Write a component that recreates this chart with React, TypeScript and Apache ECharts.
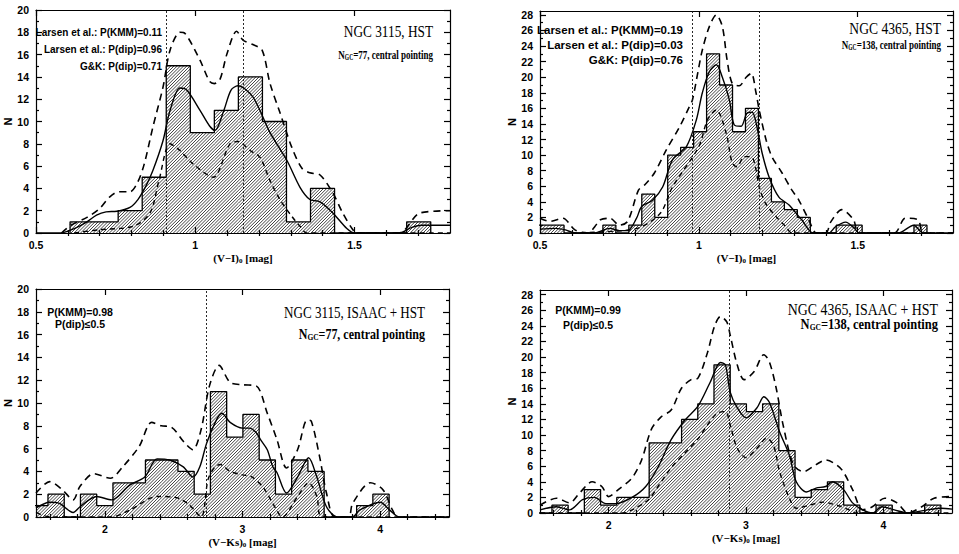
import React, { useEffect, useRef } from "react";
import * as echarts from "echarts";

type Pt = [number, number];

// ---------------- Panel A : NGC 3115, HST, (V-I)0 ----------------
const aBinStart = 0.607;
const aBinWidth = 0.0755;
const aCounts = [1, 1, 2, 5, 15, 9, 11, 14, 10, 1, 4, 0, 0, 0, 1];
const aKde: Pt[] = [[0.5, 0], [0.575, 0], [0.62, 0.4], [0.66, 1.0], [0.69, 1.6], [0.72, 1.9], [0.754, 1.95], [0.795, 2.3], [0.82, 3.0], [0.845, 4.2], [0.867, 5.6], [0.899, 8.3], [0.921, 11], [0.952, 13], [0.974, 12.8], [1.015, 11], [1.045, 9.6], [1.062, 9.2], [1.09, 11], [1.112, 12.8], [1.134, 13.2], [1.181, 12.2], [1.235, 9], [1.288, 6.5], [1.329, 4.1], [1.36, 3.0], [1.392, 2.8], [1.432, 1.8], [1.476, 0.4], [1.5, 0], [1.64, 0], [1.68, 0.5], [1.71, 0.7], [1.8, 0.7]];
const aUpper: Pt[] = [[0.58, 0], [0.61, 0.7], [0.66, 1.4], [0.7, 2.2], [0.73, 3.2], [0.76, 3.7], [0.795, 3.7], [0.82, 4.6], [0.84, 6.2], [0.867, 9.5], [0.899, 13.1], [0.921, 16.4], [0.952, 18], [0.968, 17.9], [1.015, 15.5], [1.045, 13.6], [1.06, 13.4], [1.078, 13.8], [1.1, 16.1], [1.13, 18.1], [1.15, 17.3], [1.181, 16.9], [1.21, 16.4], [1.235, 13.4], [1.266, 10.8], [1.303, 7.7], [1.335, 5.8], [1.36, 5.4], [1.392, 5.2], [1.432, 3.6], [1.463, 1.8], [1.495, 0.3], [1.51, 0], [1.64, 0], [1.706, 1.8], [1.8, 2.0]];
const aLower: Pt[] = [[0.62, 0], [0.7, 0.3], [0.805, 0.6], [0.858, 1.8], [0.886, 4.7], [0.921, 8.0], [0.952, 7.4], [0.993, 6.2], [1.056, 5.0], [1.109, 8.0], [1.134, 8.2], [1.172, 7.4], [1.203, 6.8], [1.235, 4.7], [1.266, 3.0], [1.303, 1.5], [1.329, 0.6], [1.35, 0], [1.8, 0]];
const aPeaks = [0.913, 1.15];
const aXTicks = [0.5, 1, 1.5];
const aYTicks = [0, 2, 4, 6, 8, 10, 12, 14, 16, 18, 20];
const aNotes = ["Larsen et al.: P(KMM)=0.11", "Larsen et al.: P(dip)=0.96", "G&K: P(dip)=0.71"];
const aTitle = "NGC 3115, HST";
const aSub = "N{sub|GC}=77, central pointing";

// ---------------- Panel B : NGC 4365, HST, (V-I)0 ----------------
const bBinStart = 0.494;
const bBinWidth = 0.0408;
const bCounts = [1, 1, 0, 0, 0, 1, 0, 1, 5, 2, 10, 11, 13, 23, 19, 13, 16, 7, 4, 3, 2, 0, 0, 1, 1, 0, 0, 0, 0, 1];
const bKde: Pt[] = [[0.5, 0.5], [0.55, 0.6], [0.58, 0.4], [0.61, 0], [0.67, 0], [0.72, 0.6], [0.75, 0.3], [0.776, 0.3], [0.804, 1.9], [0.82, 3.4], [0.854, 4.2], [0.886, 5.9], [0.917, 9.4], [0.961, 11.1], [0.992, 14.5], [1.011, 18], [1.033, 20.7], [1.055, 21.6], [1.074, 20], [1.096, 17.1], [1.111, 13.9], [1.133, 13.7], [1.152, 15.4], [1.168, 15.5], [1.183, 13.6], [1.199, 10.3], [1.221, 7.2], [1.252, 4.6], [1.284, 3.6], [1.315, 2.1], [1.324, 1.7], [1.346, 0.4], [1.36, 0], [1.409, 0], [1.43, 0.8], [1.462, 1.4], [1.49, 0.6], [1.503, 0], [1.628, 0], [1.676, 1.0], [1.707, 0], [1.8, 0]];
const bUpper: Pt[] = [[0.5, 1.9], [0.531, 1.5], [0.572, 1.9], [0.61, 0.4], [0.65, 0], [0.68, 1.2], [0.69, 1.7], [0.72, 1.9], [0.75, 1.0], [0.776, 1.5], [0.81, 5.5], [0.83, 6.2], [0.86, 7.7], [0.898, 10.7], [0.939, 13.6], [0.97, 16.2], [0.98, 17.1], [1.0, 21.3], [1.011, 23.5], [1.033, 26.5], [1.055, 28.0], [1.074, 26.5], [1.089, 22.2], [1.105, 19.2], [1.127, 18.9], [1.149, 20], [1.165, 20.5], [1.18, 18], [1.19, 15.8], [1.212, 11.9], [1.23, 9.8], [1.262, 7.7], [1.293, 5.5], [1.315, 4.2], [1.346, 1.7], [1.37, 0], [1.4, 0], [1.415, 1.4], [1.45, 3.0], [1.487, 1.7], [1.503, 0], [1.615, 0], [1.65, 1.9], [1.69, 1.7], [1.707, 0], [1.8, 0]];
const bLower: Pt[] = [[0.6, 0], [0.76, 0.3], [0.82, 0.8], [0.88, 2.6], [0.917, 5.9], [1.0, 11.1], [1.027, 14.5], [1.055, 15.8], [1.086, 12.8], [1.105, 9], [1.12, 8.5], [1.143, 9.8], [1.165, 9.8], [1.18, 8.1], [1.19, 5.9], [1.21, 3.8], [1.243, 2.1], [1.274, 0.8], [1.293, 0], [1.8, 0]];
const bPeaks = [0.98, 1.187];
const bXTicks = [0.5, 1, 1.5];
const bYTicks = [0, 2, 4, 6, 8, 10, 12, 14, 16, 18, 20, 22, 24, 26, 28];
const bNotes = ["Larsen et al.: P(KMM)=0.19", "Larsen et al.: P(dip)=0.03", "G&K: P(dip)=0.76"];
const bTitle = "NGC 4365, HST";
const bSub = "N{sub|GC}=138, central pointing";

// ---------------- Panel C : NGC 3115, ISAAC + HST, (V-Ks)0 ----------------
const cBinStart = 1.469;
const cBinWidth = 0.118;
const cCounts = [1, 2, 0, 2, 1, 3, 3, 5, 5, 4, 2, 11, 7, 9, 5, 2, 5, 4, 0, 0, 1, 2];
const cKde: Pt[] = [[1.5, 0.8], [1.6, 1.3], [1.67, 1.2], [1.77, 0.4], [1.82, 0.9], [1.94, 1.8], [2.05, 1.5], [2.18, 2.8], [2.29, 3.5], [2.38, 5.1], [2.47, 5.0], [2.57, 4.4], [2.64, 3.5], [2.69, 4.4], [2.74, 6.5], [2.81, 8.5], [2.85, 9.1], [2.91, 8.3], [3.0, 7.8], [3.05, 7.8], [3.1, 7.4], [3.13, 6.8], [3.18, 5.9], [3.22, 4.4], [3.25, 3.9], [3.32, 2.1], [3.4, 3.5], [3.48, 5.2], [3.54, 3.5], [3.61, 0.9], [3.69, 0], [3.8, 0], [3.85, 0.6], [4.0, 1.3], [4.07, 0.6], [4.14, 0], [4.5, 0]];
const cUpper: Pt[] = [[1.5, 2.1], [1.6, 3.1], [1.69, 2.4], [1.77, 1.5], [1.82, 2.7], [1.92, 3.8], [2.04, 3.4], [2.13, 4.4], [2.25, 6.2], [2.34, 8.3], [2.41, 8.0], [2.48, 7.9], [2.58, 6.5], [2.64, 5.9], [2.7, 7.7], [2.76, 11.5], [2.83, 13.3], [2.91, 11.8], [3.0, 11.6], [3.1, 11.5], [3.18, 9.1], [3.25, 6.8], [3.32, 4.3], [3.4, 5.9], [3.47, 8.5], [3.5, 8.4], [3.56, 5.3], [3.61, 2.1], [3.67, 0], [3.77, 0], [3.8, 1.2], [3.93, 3.0], [4.02, 2.4], [4.09, 0.6], [4.13, 0], [4.5, 0]];
const cLower: Pt[] = [[1.5, 0.4], [1.56, 0.1], [1.62, 0], [2.05, 0], [2.18, 0.6], [2.38, 1.8], [2.52, 1.7], [2.61, 1.1], [2.7, 0], [2.75, 3.3], [2.8, 4.4], [2.84, 4.6], [2.91, 4.0], [3.0, 3.7], [3.07, 3.5], [3.15, 2.6], [3.22, 1.2], [3.29, 0], [3.4, 1.8], [3.48, 3.0], [3.54, 1.8], [3.58, 0], [4.5, 0]];
const cPeaks = [2.742];
const cXTicks = [2, 3, 4];
const cYTicks = [0, 2, 4, 6, 8, 10, 12, 14, 16, 18, 20];
const cNotes = ["P(KMM)=0.98", "P(dip)≤0.5"];
const cTitle = "NGC 3115, ISAAC + HST";
const cSub = "N{sub|GC}=77, central pointing";

// ---------------- Panel D : NGC 4365, ISAAC + HST, (V-Ks)0 ----------------
const dBinStart = 1.469;
const dBinWidth = 0.118;
const dCounts = [0, 1, 0, 3, 1, 2, 2, 9, 9, 12, 14, 19, 14, 13, 14, 8, 2, 3, 4, 1, 0, 1, 0, 0, 1];
const dKde: Pt[] = [[1.5, 0.4], [1.62, 0.8], [1.715, 0.4], [1.81, 1.7], [1.895, 2.0], [1.98, 1.2], [2.05, 1.2], [2.17, 2.0], [2.27, 3.4], [2.36, 5.9], [2.455, 9.4], [2.555, 11.9], [2.65, 13.7], [2.74, 16.8], [2.814, 19.3], [2.85, 19.0], [2.885, 15.5], [2.936, 13.5], [3.0, 12.2], [3.08, 13.5], [3.13, 14.9], [3.17, 14.2], [3.245, 10.4], [3.316, 7.4], [3.366, 4.0], [3.44, 2.7], [3.51, 3.2], [3.58, 3.4], [3.63, 4.0], [3.71, 3.0], [3.776, 1.3], [3.85, 0.4], [3.92, 0], [3.99, 0.8], [4.08, 0.4], [4.18, 0], [4.32, 0.4], [4.42, 0.6], [4.5, 0.5]];
const dUpper: Pt[] = [[1.5, 1.0], [1.62, 1.9], [1.715, 1.3], [1.79, 2.6], [1.88, 4.0], [1.95, 3.4], [2.0, 2.1], [2.07, 3.0], [2.17, 4.5], [2.24, 6.8], [2.31, 10.7], [2.38, 12.3], [2.455, 13.2], [2.53, 16.0], [2.6, 17.1], [2.65, 17.3], [2.72, 20.6], [2.77, 23.9], [2.814, 25.2], [2.86, 24.5], [2.885, 22.8], [2.936, 19], [2.986, 17.1], [3.058, 18.1], [3.13, 20.3], [3.17, 19.4], [3.22, 16], [3.27, 11.3], [3.345, 6.2], [3.417, 5.3], [3.51, 6.2], [3.58, 6.8], [3.63, 6.5], [3.7, 5.5], [3.776, 3.0], [3.85, 0.4], [3.92, 0.8], [4.01, 1.9], [4.1, 1.3], [4.18, 0], [4.28, 0.8], [4.37, 1.9], [4.5, 2.1]];
const dLower: Pt[] = [[1.5, 0], [2.1, 0], [2.17, 0.4], [2.29, 1.7], [2.36, 3.4], [2.455, 5.8], [2.555, 7.7], [2.65, 9.5], [2.72, 11.3], [2.79, 12.8], [2.85, 13], [2.885, 11.3], [2.936, 8.3], [3.0, 7.1], [3.08, 8.3], [3.15, 9.6], [3.2, 8.7], [3.245, 5.3], [3.316, 1.9], [3.366, 0.6], [3.46, 1.0], [3.56, 1.4], [3.62, 1.2], [3.68, 0.9], [3.75, 0.4], [3.8, 0], [4.5, 0]];
const dPeaks = [2.885];
const dXTicks = [2, 3, 4];
const dYTicks = [0, 2, 4, 6, 8, 10, 12, 14, 16, 18, 20, 22, 24, 26, 28];
const dNotes = ["P(KMM)=0.99", "P(dip)≤0.5"];
const dTitle = "NGC 4365, ISAAC + HST";
const dSub = "N{sub|GC}=138, central pointing";

const viName = "(V−I){sub|0} [mag]";
const vkName = "(V−Ks){sub|0} [mag]";

// ---------------- layout ----------------
const SANS = '"Liberation Sans", Arial, sans-serif';
const SERIF = '"Liberation Serif", "Times New Roman", serif';
const STRETCH = 1.2; // text drawn taller then squeezed horizontally (narrow plot font)

function minorTicks(majors: number[], lo: number, hi: number, step: number): number[] {
  const out: number[] = [];
  const n = Math.round((hi - lo) / step);
  for (let i = 0; i <= n; i++) {
    const v = Math.round((lo + i * step) * 1000) / 1000;
    if (!majors.some((m) => Math.abs(m - v) < 1e-6)) out.push(v);
  }
  return out;
}

const panels = [
  {
    grid: { left: 36, top: 10, width: 414, height: 223 },
    xMin: 0.5, xMax: 1.8, yMax: 20,
    xTicks: aXTicks, xMinor: minorTicks(aXTicks, 0.6, 1.7, 0.1),
    yTicks: aYTicks, yMinor: minorTicks(aYTicks, 1, 19, 1),
    start: aBinStart, width: aBinWidth, counts: aCounts,
    kde: aKde, upper: aUpper, lower: aLower, peaks: aPeaks, xName: viName,
    notes: aNotes, notesAlign: "right", notesX: 162, notesY: [32, 49, 66], notesSize: 10,
    title: aTitle, titleX: 433, titleY: 32, titleSize: 13.3, sub: aSub, subY: 54, subSize: 9, subStretch: 1.45,
  },
  {
    grid: { left: 540, top: 11, width: 413, height: 222 },
    xMin: 0.5, xMax: 1.8, yMax: 28.5,
    xTicks: bXTicks, xMinor: minorTicks(bXTicks, 0.6, 1.7, 0.1),
    yTicks: bYTicks, yMinor: minorTicks(bYTicks, 1, 27, 1),
    start: bBinStart, width: bBinWidth, counts: bCounts,
    kde: bKde, upper: bUpper, lower: bLower, peaks: bPeaks, xName: viName,
    notes: bNotes, notesAlign: "right", notesX: 683, notesY: [30, 45, 60], notesSize: 11.5,
    title: bTitle, titleX: 941, titleY: 29, titleSize: 13.6, sub: bSub, subY: 44, subSize: 9, subStretch: 1.45,
  },
  {
    grid: { left: 36, top: 289, width: 413, height: 228 },
    xMin: 1.5, xMax: 4.5, yMax: 20,
    xTicks: cXTicks, xMinor: minorTicks(cXTicks, 1.6, 4.4, 0.2),
    yTicks: cYTicks, yMinor: minorTicks(cYTicks, 1, 19, 1),
    start: cBinStart, width: cBinWidth, counts: cCounts,
    kde: cKde, upper: cUpper, lower: cLower, peaks: cPeaks, xName: vkName,
    notes: cNotes, notesAlign: "center", notesX: 80, notesY: [312, 324], notesSize: 10.5,
    title: cTitle, titleX: 425, titleY: 313, titleSize: 13.1, sub: cSub, subY: 334, subSize: 12, subStretch: 1.2,
  },
  {
    grid: { left: 540, top: 290, width: 412, height: 223 },
    xMin: 1.5, xMax: 4.5, yMax: 28.6,
    xTicks: dXTicks, xMinor: minorTicks(dXTicks, 1.6, 4.4, 0.2),
    yTicks: dYTicks, yMinor: minorTicks(dYTicks, 1, 27, 1),
    start: dBinStart, width: dBinWidth, counts: dCounts,
    kde: dKde, upper: dUpper, lower: dLower, peaks: dPeaks, xName: vkName,
    notes: dNotes, notesAlign: "center", notesX: 588, notesY: [310, 325], notesSize: 10.5,
    title: dTitle, titleX: 938, titleY: 309, titleSize: 13.9, sub: dSub, subY: 324, subSize: 12.5, subStretch: 1.2,
  },
];

const black = "#000";
const frame = { color: black, width: 1.2 };

function stepOutline(start: number, width: number, counts: number[]): Pt[] {
  const pts: Pt[] = [[start, 0]];
  counts.forEach((c, i) => {
    pts.push([start + i * width, c]);
    pts.push([start + (i + 1) * width, c]);
  });
  pts.push([start + counts.length * width, 0]);
  return pts;
}

const HATCH = 3.2;
function renderHatch(params: any, api: any) {
  const x0 = api.value(0);
  const x1 = api.value(1);
  const c = api.value(2);
  if (!(c > 0)) return { type: "group", children: [] };
  const a = api.coord([x0, 0]);
  const b = api.coord([x1, c]);
  const cs = params.coordSys;
  const left = Math.max(Math.min(a[0], b[0]), cs.x);
  const right = Math.min(Math.max(a[0], b[0]), cs.x + cs.width);
  const top = Math.max(b[1], cs.y);
  const bottom = a[1];
  if (right <= left) return { type: "group", children: [] };
  let d = "";
  for (let k = Math.ceil((left + top) / HATCH); k * HATCH <= right + bottom; k++) {
    const cc = k * HATCH;
    const xa = Math.max(left, cc - bottom);
    const xb = Math.min(right, cc - top);
    if (xb > xa) d += `M${xa.toFixed(2)} ${(cc - xa).toFixed(2)}L${xb.toFixed(2)} ${(cc - xb).toFixed(2)}`;
  }
  if (!d) return { type: "group", children: [] };
  return {
    type: "path",
    shape: { pathData: d },
    style: { fill: "none", stroke: "#111", lineWidth: 0.8 },
  };
}

function buildOption() {
  const grids: any[] = [];
  const xAxes: any[] = [];
  const yAxes: any[] = [];
  const series: any[] = [];
  const graphics: any[] = [];
  const labelStyle = { color: black, fontSize: 10.5, fontWeight: "bold", fontFamily: SANS };
  const subRich = (size: number, family: string) => ({
    sub: { fontSize: size, fontFamily: family, fontWeight: "bold", color: black, padding: [Math.round(size * 0.7), 0, 0, 0] },
  });

  panels.forEach((p, gi) => {
    grids.push({ ...p.grid, containLabel: false });
    const xb = { gridIndex: gi, type: "value", min: p.xMin, max: p.xMax, splitLine: { show: false } };
    xAxes.push(
      {
        ...xb, position: "bottom",
        axisLine: { show: true, onZero: false, lineStyle: frame },
        axisTick: { show: true, inside: true, length: 6, customValues: p.xTicks, lineStyle: frame },
        axisLabel: { show: true, customValues: p.xTicks, margin: 6, ...labelStyle },
        name: p.xName, nameLocation: "middle", nameGap: 19,
        nameTextStyle: { color: black, fontSize: 11, fontWeight: "bold", fontFamily: SERIF, rich: subRich(7, SERIF) },
      },
      {
        ...xb, position: "bottom", axisLine: { show: false },
        axisTick: { show: true, inside: true, length: 3, customValues: p.xMinor, lineStyle: frame },
        axisLabel: { show: false },
      },
      {
        ...xb, position: "top",
        axisLine: { show: true, onZero: false, lineStyle: frame },
        axisTick: { show: true, inside: true, length: 6, customValues: p.xTicks, lineStyle: frame },
        axisLabel: { show: false },
      },
      {
        ...xb, position: "top", axisLine: { show: false },
        axisTick: { show: true, inside: true, length: 3, customValues: p.xMinor, lineStyle: frame },
        axisLabel: { show: false },
      }
    );
    const yb = { gridIndex: gi, type: "value", min: 0, max: p.yMax, splitLine: { show: false } };
    yAxes.push(
      {
        ...yb, position: "left",
        axisLine: { show: true, onZero: false, lineStyle: frame },
        axisTick: { show: true, inside: true, length: 6, customValues: p.yTicks, lineStyle: frame },
        axisLabel: { show: true, customValues: p.yTicks, margin: 7, ...labelStyle },
        name: "N", nameLocation: "middle", nameGap: 21, nameRotate: 90,
        nameTextStyle: { color: black, fontSize: 11, fontWeight: "bold", fontFamily: SANS },
      },
      {
        ...yb, position: "left", axisLine: { show: false },
        axisTick: { show: true, inside: true, length: 3, customValues: p.yMinor, lineStyle: frame },
        axisLabel: { show: false },
      },
      {
        ...yb, position: "right",
        axisLine: { show: true, onZero: false, lineStyle: frame },
        axisTick: { show: true, inside: true, length: 6, customValues: p.yTicks, lineStyle: frame },
        axisLabel: { show: false },
      },
      {
        ...yb, position: "right", axisLine: { show: false },
        axisTick: { show: true, inside: true, length: 3, customValues: p.yMinor, lineStyle: frame },
        axisLabel: { show: false },
      }
    );
    const xi = gi * 4;
    const yi = gi * 4;
    const bins = p.counts.map((c, i) => [p.start + i * p.width, p.start + (i + 1) * p.width, c]);
    series.push({
      type: "custom", xAxisIndex: xi, yAxisIndex: yi, clip: true, silent: true, z: 1,
      renderItem: renderHatch, encode: { x: [0, 1], y: 2 }, data: bins,
    });
    series.push({
      type: "line", xAxisIndex: xi, yAxisIndex: yi, data: stepOutline(p.start, p.width, p.counts),
      symbol: "none", silent: true, z: 3, clip: true,
      lineStyle: { color: black, width: 1.3 },
      markLine: {
        symbol: "none", silent: true, label: { show: false },
        lineStyle: { color: "#111", width: 0.9, type: [2, 2] },
        data: p.peaks.map((v) => ({ xAxis: v })),
      },
    });
    series.push({
      type: "line", xAxisIndex: xi, yAxisIndex: yi, data: p.kde, symbol: "none", smooth: 0.3, silent: true, z: 4, clip: true,
      lineStyle: { color: black, width: 1.4 },
    });
    series.push({
      type: "line", xAxisIndex: xi, yAxisIndex: yi, data: p.upper, symbol: "none", smooth: 0.3, silent: true, z: 4, clip: true,
      lineStyle: { color: black, width: 1.6, type: [7, 5] },
    });
    series.push({
      type: "line", xAxisIndex: xi, yAxisIndex: yi, data: p.lower, symbol: "none", smooth: 0.3, silent: true, z: 4, clip: true,
      lineStyle: { color: black, width: 1.4, type: [5, 4] },
    });

    p.notes.forEach((t, i) => {
      graphics.push({
        type: "text", x: p.notesX, y: p.notesY[i], z: 10,
        style: {
          text: t, fill: black, fontSize: p.notesSize, fontWeight: "bold", fontFamily: SANS,
          align: p.notesAlign, verticalAlign: "middle",
        },
      });
    });
    graphics.push({
      type: "text", x: p.titleX, y: p.titleY, z: 10, scaleX: 1 / STRETCH,
      style: {
        text: p.title, fill: black, fontSize: p.titleSize * STRETCH, fontFamily: SERIF,
        align: "right", verticalAlign: "middle",
      },
    });
    const ss = p.subSize * p.subStretch;
    graphics.push({
      type: "text", x: p.titleX, y: p.subY, z: 10, scaleX: 1 / p.subStretch,
      style: {
        text: p.sub, fill: black, fontSize: ss, fontWeight: "bold", fontFamily: SERIF,
        align: "right", verticalAlign: "middle", rich: subRich(Math.round(ss * 0.62), SERIF),
      },
    });
  });

  return {
    animation: false,
    backgroundColor: "#fff",
    grid: grids,
    xAxis: xAxes,
    yAxis: yAxes,
    series,
    graphic: graphics,
  };
}

export default function App() {
  const ref = useRef<HTMLDivElement>(null);
  useEffect(() => {
    if (!ref.current) return;
    const chart = echarts.init(ref.current, null, { renderer: "svg" });
    chart.setOption(buildOption() as any);
    return () => chart.dispose();
  }, []);
  return (
    <div
      ref={ref}
      style={{ position: "absolute", left: 0, top: 0, width: 959, height: 554, background: "#fff" }}
    />
  );
}
